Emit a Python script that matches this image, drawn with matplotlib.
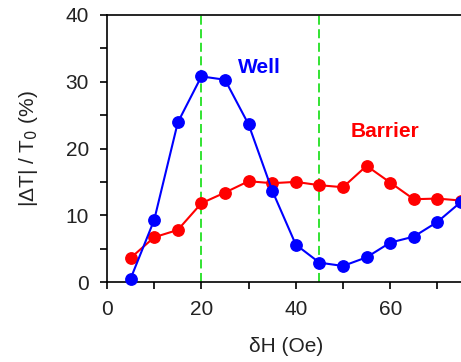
import numpy as np
import matplotlib.pyplot as plt

plt.rcParams['font.family'] = ['Liberation Sans', 'DejaVu Sans']

# field step (Oe)
dH = [5, 10, 15, 20, 25, 30, 35, 40, 45, 50, 55, 60, 65, 70, 75]
# |dT|/T0 (%)
well = [0.5, 9.3, 23.9, 30.8, 30.3, 23.6, 13.7, 5.6, 2.9, 2.4, 3.7, 5.9, 6.8, 9.0, 12.0]
barrier = [3.6, 6.7, 7.8, 11.8, 13.4, 15.1, 14.8, 15.0, 14.5, 14.2, 17.4, 14.9, 12.4, 12.5, 12.2]
vlines = [20, 45]

fig = plt.figure(figsize=(4.61, 3.62), dpi=100)
ax = fig.add_axes([107/461, 1 - 282/362, 1 - 107/461, (282 - 15)/362])

for xv in vlines:
    ax.axvline(xv, color='#22e022', ls=(0, (5, 2.5)), lw=1.3, zorder=1)

ax.plot(dH, barrier, 'o-', color='#ff0000', ms=8.2, lw=1.5, clip_on=False, zorder=3)
ax.plot(dH, well, 'o-', color='#0000ff', ms=8.2, lw=1.5, clip_on=False, zorder=4)

ax.text(32.3, 32.2, 'Well', color='#0000ff', fontsize=15, fontweight='bold',
        ha='center', va='center')
ax.text(58.8, 22.6, 'Barrier', color='#ff0000', fontsize=15, fontweight='bold',
        ha='center', va='center')

ax.set_xlim(0, 75)
ax.set_ylim(0, 40)
ax.set_xticks([0, 20, 40, 60])
ax.set_xticks(np.arange(10, 75, 20), minor=True)
ax.set_yticks([0, 10, 20, 30, 40])
ax.set_yticks([5, 15, 25, 35], minor=True)
ax.tick_params(which='both', direction='out', length=5, width=1.2, labelsize=15,
               colors='black', labelcolor='#222222', pad=8)
ax.spines['right'].set_visible(False)
for s in ['left', 'bottom', 'top']:
    ax.spines[s].set_linewidth(1.2)

ax.set_xlabel('δH (Oe)', fontsize=15, color='#222222')
ax.set_ylabel('|ΔT| / T$_0$ (%)', fontsize=15, color='#222222')
ax.xaxis.set_label_coords(0.505, -0.205)
ax.yaxis.set_label_coords(-0.19, 0.5)

fig.savefig('out.png', dpi=100)
